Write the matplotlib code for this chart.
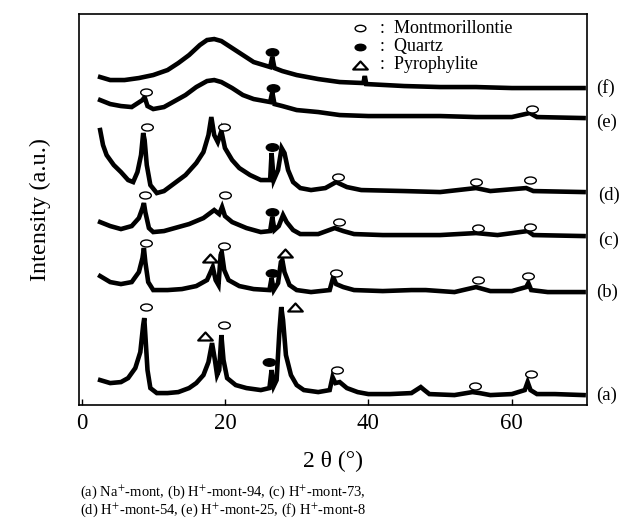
import numpy as np
import matplotlib
matplotlib.use("Agg")
import matplotlib.pyplot as plt
from matplotlib.path import Path

plt.rcParams['font.family'] = ['Liberation Serif', 'DejaVu Serif']
plt.rcParams['mathtext.fontset'] = 'stix'

# XRD patterns (2 theta, stacked intensity in a.u.)
tt_a = [2.6, 4, 5.5, 6.5, 7.5, 8.2, 8.6, 8.75, 8.9, 9.2, 9.6, 10.5, 12, 13.5, 15, 16, 17, 17.7,
        18.2, 18.6, 18.9, 19.2, 19.5, 19.8, 20.3, 21.5, 23, 25, 26.2, 26.5, 26.8, 27.2, 27.6,
        27.85, 28.1, 28.5, 29.2, 30, 31, 33, 34.6, 35, 35.4, 36, 37, 38.5, 40, 43, 46, 47.3,
        47.8, 48.5, 52, 54.5, 55.5, 57, 60, 61.8, 62.2, 62.6, 63.5, 66, 70]
int_a = [25, 22, 23, 27, 37, 53, 80, 87, 70, 35, 17, 12, 12, 13, 17, 22, 30, 43,
         62, 45, 30, 35, 70, 45, 27, 20, 17, 15, 17, 35, 19, 25, 75,
         98, 85, 50, 30, 20, 15, 13, 15, 28, 22, 23, 17, 13, 11, 11, 12, 18,
         15, 11, 10, 13, 12, 10, 11, 15, 23, 15, 11, 11, 10]

tt_b = [2.6, 4, 5.5, 7, 8, 8.5, 8.7, 8.9, 9.3, 10, 12, 14, 16, 17.5, 18.0, 18.3, 18.7, 19.1,
        19.4, 19.55, 19.9, 20.5, 22, 24, 26.2, 26.5, 26.8, 27.4, 27.8, 28.0, 28.3, 29, 30, 32,
        34.6, 35.1, 35.5, 36.5, 38, 42, 46, 48, 52, 55, 57, 60, 62, 62.3, 62.7, 65, 70]
int_b = [129, 123, 121, 123, 133, 147, 157, 143, 123, 115, 115, 116, 119, 125, 133, 138, 125, 120,
         150, 153, 135, 125, 119, 116, 115, 127, 115, 122, 143, 145, 133, 120, 115, 113,
         115, 128, 121, 118, 115, 114, 115, 115, 113, 118, 114, 114, 118, 122, 115, 113, 113]

tt_c = [2.6, 4, 5.5, 7, 8, 8.5, 8.7, 8.9, 9.4, 10, 11.5, 13, 15, 17, 18.5, 19.2, 19.6, 20, 21,
        23, 25, 26.3, 26.6, 26.9, 27.5, 28.1, 28.6, 29.5, 30.5, 33, 35.3, 36.5, 38, 42, 46,
        50, 55, 58, 62.2, 63, 70]
int_c = [183, 179, 176, 179, 187, 197, 202, 193, 177, 173, 174, 177, 181, 187, 195, 191, 198, 189, 183,
         177, 173, 174, 188, 175, 179, 190, 183, 175, 171, 171, 177, 174, 171, 170, 170,
         170, 172, 170, 174, 170, 169]

tt_d = [2.6, 3.0, 3.5, 4.5, 5.5, 6.5, 7.2, 7.8, 8.3, 8.6, 8.8, 9.1, 9.6, 10.5, 11.5, 13, 14.5,
        16, 17, 17.7, 18.1, 18.5, 19.0, 19.5, 20, 21, 22, 23.5, 25, 26.3, 26.5, 26.8, 27.4,
        27.9, 28.3, 28.8, 29.5, 30.5, 32, 34, 35.5, 37, 39, 45, 50, 55, 57, 62, 63, 70]
int_d = [275, 260, 250, 240, 233, 225, 223, 233, 250, 272, 265, 240, 220, 212, 214, 222, 230,
         242, 253, 270, 288, 270, 263, 274, 257, 245, 237, 230, 225, 225, 252, 225, 235,
         257, 252, 235, 223, 217, 215, 217, 223, 218, 215, 214, 213, 217, 214, 217, 214, 213]

tt_e = [2.6, 4, 5.5, 7, 8.5, 8.8, 9.2, 10, 11.5, 13, 14.5, 16, 17.5, 18.5, 19.5, 21, 22.5, 24,
        26.3, 26.6, 26.9, 28, 30, 33, 36, 40, 45, 50, 55, 60, 62.5, 63.5, 70]
int_e = [305, 301, 299, 298, 305, 308, 299, 296, 298, 304, 310, 318, 324, 325, 323, 317, 310, 306,
         303, 313, 301, 299, 295, 293, 290, 289, 289, 289, 288, 288, 292, 288, 287]

tt_f = [2.6, 4, 6, 8, 10, 12, 13.5, 15, 16.5, 17.5, 18.5, 19.5, 21, 22.5, 24, 26.3, 26.6, 26.9,
        28, 30, 33, 36, 39.3, 39.5, 39.7, 45, 50, 55, 60, 65, 70]
int_f = [328, 325, 325, 327, 330, 335, 342, 350, 360, 365, 366, 364, 357, 350, 343, 338, 348, 337,
         334, 330, 326, 323, 322, 329, 321, 319, 318, 318, 317, 317, 317]

patterns = [(tt_a, int_a), (tt_b, int_b), (tt_c, int_c),
            (tt_d, int_d), (tt_e, int_e), (tt_f, int_f)]
curve_labels = ['(a)', '(b)', '(c)', '(d)', '(e)', '(f)']

# phase markers (2 theta, intensity)
mont_tt = [9.0, 62.8, 9.1, 19.9, 35.8, 55.0, 62.5, 8.9, 20.0, 35.9, 55.3, 62.5,
           9.0, 19.8, 35.5, 55.3, 62.3, 9.0, 19.8, 35.6, 54.9, 62.6]
mont_int = [313, 296, 278, 278, 228, 223, 225, 210, 210, 183, 177, 178,
            162, 159, 132, 125, 129, 98, 80, 35, 19, 31]
quartz_tt = [26.6, 26.7, 26.6, 26.6, 26.6, 26.2]
quartz_int = [353, 317, 258, 193, 132, 43]
pyro_tt = [17.9, 28.4, 17.2, 29.8]
pyro_int = [147, 152, 69, 98]

ellipse = Path.unit_circle().transformed(matplotlib.transforms.Affine2D().scale(1, 0.6))
tri = Path([(-1, -0.55), (1, -0.55), (0, 0.55), (-1, -0.55)],
           [Path.MOVETO, Path.LINETO, Path.LINETO, Path.CLOSEPOLY])

fig = plt.figure(figsize=(6.22, 5.20), dpi=100)
ax = fig.add_axes([0.127, 0.221, 0.817, 0.752])

for tt, inten in patterns:
    ax.plot(tt, inten, color='black', lw=3.3, solid_joinstyle='miter')

ax.scatter(mont_tt, mont_int, marker=ellipse, s=70, facecolor='white',
           edgecolor='black', linewidth=1.0, zorder=3)
ax.scatter(quartz_tt, quartz_int, marker=ellipse, s=80, facecolor='black',
           edgecolor='black', linewidth=1.0, zorder=3)
ax.scatter(pyro_tt, pyro_int, marker=tri, s=110, facecolor='white',
           edgecolor='black', linewidth=1.6, zorder=3)

# legend
leg_y = [0.964, 0.916, 0.870]
ax.scatter([0.553], [leg_y[0]], marker=ellipse, s=60, facecolor='white', edgecolor='black',
           linewidth=1.0, transform=ax.transAxes, clip_on=False, zorder=4)
ax.scatter([0.553], [leg_y[1]], marker=ellipse, s=60, facecolor='black', edgecolor='black',
           transform=ax.transAxes, clip_on=False, zorder=4)
ax.scatter([0.553], [leg_y[2]], marker=tri, s=110, facecolor='white', edgecolor='black',
           linewidth=1.6, transform=ax.transAxes, clip_on=False, zorder=4)
for y, name in zip(leg_y, ['Montmorillontie', 'Quartz', 'Pyrophylite']):
    ax.text(0.592, y, ':  ' + name, transform=ax.transAxes, fontsize=13, va='center')

ax.set_xlim(-0.35, 70.5)
ax.set_ylim(0, 391)
ax.set_xticks([0, 20, 40, 60])
ax.set_yticks([])
ax.tick_params(axis='x', direction='in', length=4, width=1, labelsize=16.5, pad=6)
for sp in ax.spines.values():
    sp.set_linewidth(1.2)
ax.set_xlabel('2 θ (°)', fontsize=17, labelpad=12)
ax.set_ylabel('Intensity (a.u.)', fontsize=17.5, labelpad=20)

# curve labels on the right
lab_x = [0.959, 0.959, 0.962, 0.962, 0.959, 0.959]
lab_y = [0.240, 0.438, 0.538, 0.625, 0.765, 0.831]
for x, y, lab in zip(lab_x, lab_y, curve_labels):
    fig.text(x, y, lab, fontsize=13.5, va='center', ha='left')

fig.text(0.129, 0.054, '(a) Na$^{+}$-mont, (b) H$^{+}$-mont-94, (c) H$^{+}$-mont-73,',
         fontsize=10.5, va='center')
fig.text(0.129, 0.019, '(d) H$^{+}$-mont-54, (e) H$^{+}$-mont-25, (f) H$^{+}$-mont-8',
         fontsize=10.5, va='center')

fig.savefig('out.png', dpi=100)
